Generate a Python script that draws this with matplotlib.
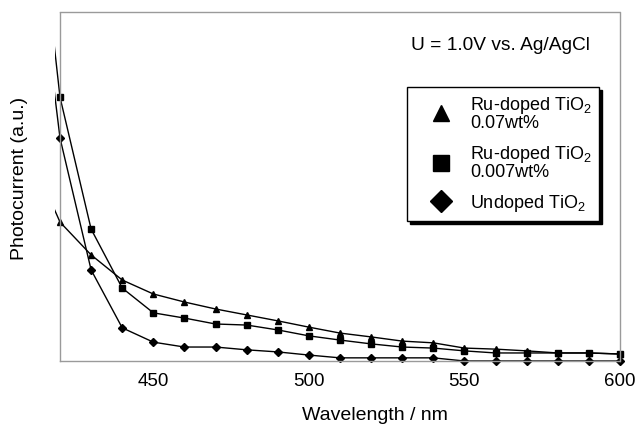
import matplotlib
matplotlib.use("Agg")
import matplotlib.pyplot as plt
from matplotlib.lines import Line2D
from matplotlib import transforms

plt.rcParams['font.family'] = ['Liberation Sans', 'DejaVu Sans']
plt.rcParams['mathtext.fontset'] = 'custom'
plt.rcParams['mathtext.rm'] = 'Liberation Sans'
plt.rcParams['mathtext.it'] = 'Liberation Sans:italic'

wavelength = [410, 420, 430, 440, 450, 460, 470, 480, 490, 500, 510, 520,
              530, 540, 550, 560, 570, 580, 590, 600]
ru_007 = [60.0, 39.8, 30.4, 23.2, 19.2, 16.9, 14.9, 13.2, 11.5, 9.7, 8.0, 6.9,
          5.7, 5.2, 3.7, 3.4, 2.9, 2.3, 2.3, 2.0]
ru_0007 = [155.6, 75.6, 37.8, 20.9, 13.8, 12.3, 10.6, 10.3, 8.9, 7.2, 6.0, 4.9,
           4.0, 3.7, 2.9, 2.3, 2.3, 2.3, 2.3, 2.0]
undoped = [136.7, 63.9, 26.1, 9.5, 5.4, 4.0, 4.0, 3.2, 2.6, 1.7, 0.9, 0.9,
           0.9, 0.9, 0.0, 0.0, 0.0, 0.0, 0.0, 0.0]

series = [
    (ru_007, '^', 'Ru-doped TiO$_\\mathrm{2}$\n0.07wt%'),
    (ru_0007, 's', 'Ru-doped TiO$_\\mathrm{2}$\n0.007wt%'),
    (undoped, 'D', 'Undoped TiO$_\\mathrm{2}$'),
]
xticks = [450, 500, 550, 600]

fig = plt.figure(figsize=(6.37, 4.26), dpi=100)
ax = fig.add_axes([0.0942, 0.1526, 0.8791, 0.8192])
ax.set_xlim(420, 600)
ax.set_ylim(0, 100)

clip = transforms.TransformedBbox(
    transforms.Bbox([[-0.0098, -0.04], [1.02, 1.0]]), ax.transAxes)

handles = []
for vals, mk, lab in series:
    ms = 4.2 if mk != 'D' else 3.8
    ln, = ax.plot(wavelength, vals, color='black', lw=1.0, marker=mk,
                  markersize=ms, markevery=slice(1, None))
    ln.set_clip_box(clip)
    handles.append(Line2D([], [], color='black', lw=0, marker=mk,
                          markersize=ms * 2.9, label=lab))

for s in ax.spines.values():
    s.set_color('#9a9a9a')
    s.set_linestyle((0, (1, 1)))
    s.set_linewidth(1.0)

ax.set_xticks(xticks)
ax.set_xticklabels([str(t) for t in xticks])
ax.set_yticks([])
ax.tick_params(axis='x', length=0, pad=9, labelsize=13.5)

ax.set_xlabel('Wavelength / nm', fontsize=14)
ax.xaxis.set_label_coords(0.5625, -0.133)
ax.set_ylabel('Photocurrent (a.u.)', fontsize=14)
ax.yaxis.set_label_coords(-0.058, 0.523)

ax.text(0.786, 0.903, 'U = 1.0V vs. Ag/AgCl', transform=ax.transAxes,
        ha='center', va='center', fontsize=13.8)

leg = ax.legend(handles=handles, loc='upper left',
                bbox_to_anchor=(0.620, 0.785), fontsize=13,
                frameon=True, fancybox=False, edgecolor='black',
                shadow={'color': 'black', 'alpha': 1},
                handlelength=2.85, handletextpad=0.2, labelspacing=0.65,
                borderpad=0.42, borderaxespad=0)
leg.get_frame().set_linewidth(1.0)
leg.get_frame().set_alpha(1)
for t in leg.get_texts():
    t.set_linespacing(0.95)

fig.savefig('out.png', dpi=100)
